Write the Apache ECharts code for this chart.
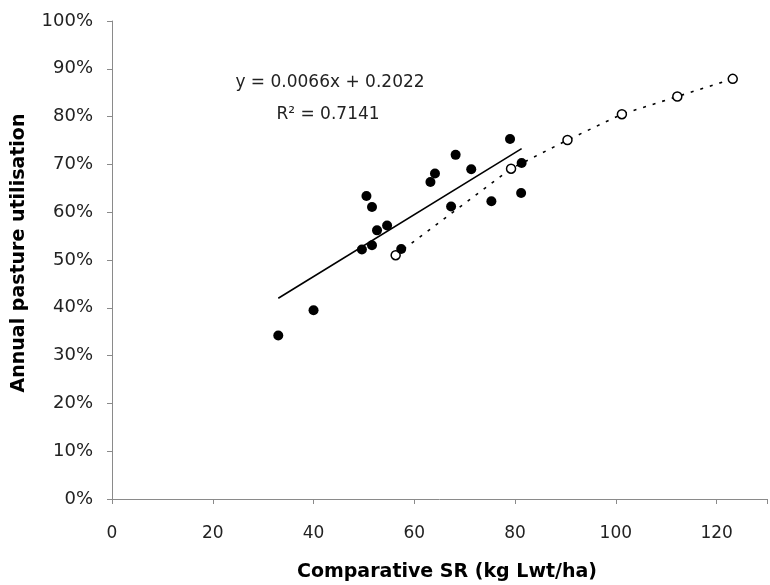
<!DOCTYPE html>
<html>
<head>
<meta charset="utf-8">
<script src="https://cdn.jsdelivr.net/npm/echarts@6/dist/echarts.min.js"></script>
<style>
html,body{margin:0;padding:0;background:#fff;}
#chart{width:770px;height:585px;}
</style>
</head>
<body>
<div id="chart"></div>
<script>
// Observed (filled) points
var filledX = [33, 40, 49.6, 50.5, 51.6, 51.6, 52.6, 54.6, 57.4, 63.2, 64.1, 67.3, 68.2, 71.3, 75.3, 79.0, 81.2, 81.3];
var filledY = [0.342, 0.395, 0.522, 0.634, 0.611, 0.531, 0.562, 0.572, 0.523, 0.663, 0.681, 0.612, 0.720, 0.690, 0.623, 0.753, 0.640, 0.703];
// Modelled (open) points, dotted line
var openX = [56.3, 79.2, 90.4, 101.2, 112.2, 123.2];
var openY = [0.510, 0.691, 0.751, 0.805, 0.842, 0.879];
// Linear trend line endpoints
var trendX = [33, 81.3];
var trendY = [0.420, 0.733];
// Axis ticks
var xTicks = [0, 20, 40, 60, 80, 100, 120];
var yTicks = [0, 0.1, 0.2, 0.3, 0.4, 0.5, 0.6, 0.7, 0.8, 0.9, 1.0];
var equationText = 'y = 0.0066x + 0.2022';
var r2Text = 'R\u00B2 = 0.7141';
var xTitle = 'Comparative SR (kg Lwt/ha)';
var yTitle = 'Annual pasture utilisation';

function zip(a, b) { return a.map(function (v, i) { return [v, b[i]]; }); }

var chart = echarts.init(document.getElementById('chart'), null, {renderer: 'canvas'});
var axisColor = '#8a8a8a';
var textColor = '#222';
var font = 'DejaVu Sans';

chart.setOption({
  animation: false,
  backgroundColor: '#fff',
  grid: {left: 112, top: 21, bottom: 86, right: -11, containLabel: false},
  xAxis: {
    type: 'value', min: 0, max: 130, interval: 20,
    axisLine: {show: true, onZero: false, lineStyle: {color: axisColor, width: 1}},
    axisTick: {show: true, length: 5, lineStyle: {color: axisColor}},
    splitLine: {show: false},
    axisLabel: {
      margin: 26, color: textColor, fontFamily: font, fontSize: 17,
      formatter: function (v) { return xTicks.indexOf(v) >= 0 ? String(v) : ''; }
    }
  },
  yAxis: {
    type: 'value', min: 0, max: 1, interval: 0.1,
    axisLine: {show: true, onZero: false, lineStyle: {color: axisColor, width: 1}},
    axisTick: {show: true, length: 5, lineStyle: {color: axisColor}},
    splitLine: {show: false},
    axisLabel: {
      margin: 19, color: textColor, fontFamily: font, fontSize: 18,
      formatter: function (v) {
        var m = yTicks.filter(function (t) { return Math.abs(t - v) < 1e-6; });
        return m.length ? Math.round(m[0] * 100) + '%' : '';
      }
    }
  },
  series: [
    {
      type: 'line', data: zip(trendX, trendY), showSymbol: false, symbol: 'none',
      lineStyle: {color: '#000', width: 1.6}, z: 2
    },
    {
      type: 'line', data: zip(openX, openY), symbol: 'circle', symbolSize: 9,
      itemStyle: {color: '#fff', borderColor: '#000', borderWidth: 1.5, opacity: 1},
      lineStyle: {color: '#000', width: 1.6, type: [3, 7]}, z: 3
    },
    {
      type: 'scatter', data: zip(filledX, filledY), symbol: 'circle', symbolSize: 10,
      itemStyle: {color: '#000', opacity: 1}, z: 4
    }
  ],
  graphic: [
    {type: 'text', x: 330, y: 83, style: {text: equationText, fontFamily: font, fontSize: 17, fill: textColor, align: 'center', verticalAlign: 'middle'}},
    {type: 'text', x: 328, y: 115, style: {text: r2Text, fontFamily: font, fontSize: 17, fill: textColor, align: 'center', verticalAlign: 'middle'}},
    {type: 'text', x: 447, y: 572, style: {text: xTitle, fontFamily: font, fontWeight: 'bold', fontSize: 19, fill: '#000', align: 'center', verticalAlign: 'middle'}},
    {type: 'text', x: 19, y: 253, rotation: Math.PI / 2, style: {text: yTitle, fontFamily: font, fontWeight: 'bold', fontSize: 19, fill: '#000', align: 'center', verticalAlign: 'middle'}}
  ]
});
</script>
</body>
</html>
